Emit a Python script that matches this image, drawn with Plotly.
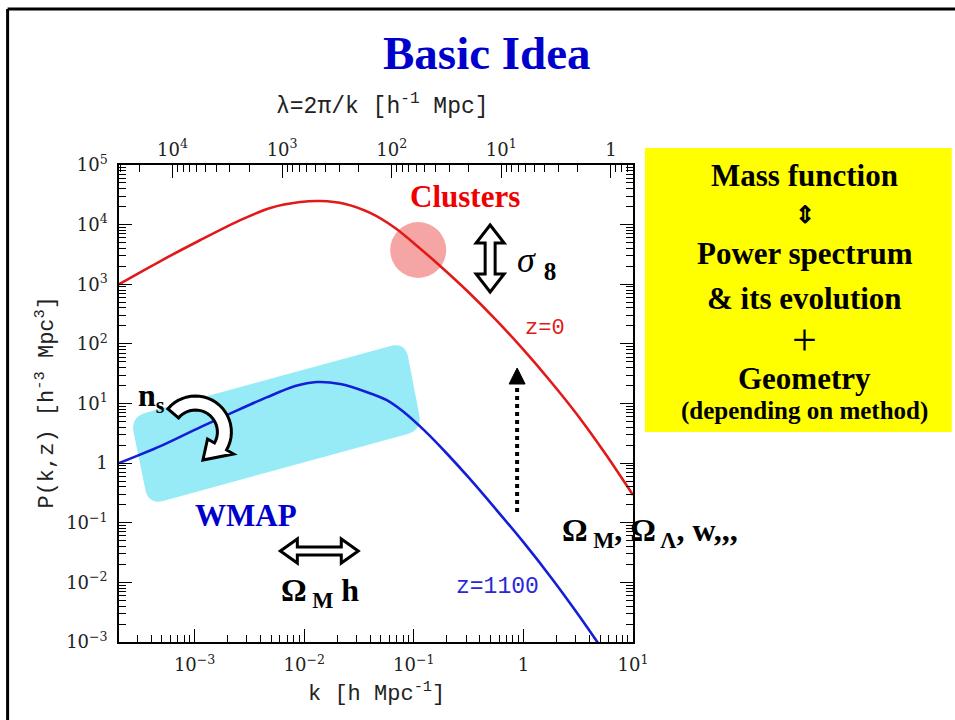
import math
import plotly.graph_objects as go

# ---------------- data ----------------
k_red = [2.04e-4, 4.88e-4, 1.13e-3, 2.61e-3, 4.9e-3, 9.19e-3, 1.40e-2, 2.37e-2, 4.0e-2,
         6.76e-2, 0.114, 0.178, 0.316, 0.562, 1.0, 1.78, 3.16, 5.62, 10.0]
P_red = [1000, 2450, 5520, 11900, 19000, 23900, 24900, 22200, 15700,
         8770, 3980, 1950, 735, 253, 80.0, 23.2, 6.18, 1.42, 0.292]

k_blue = [2.04e-4, 4.88e-4, 1.13e-3, 2.36e-3, 4.6e-3, 8.28e-3, 1.31e-2, 2.13e-2, 3.75e-2,
          5.62e-2, 7.94e-2, 0.126, 0.2, 0.316, 0.562, 1.0, 1.78, 3.16, 5.62]
P_blue = [1.0, 1.93, 4.02, 7.45, 12.8, 19.6, 22.9, 21.2, 15.5,
          11.5, 7.41, 3.47, 1.45, 0.575, 0.168, 0.0472, 0.0122, 2.89e-3, 6.3e-4]

k_ticks = [1e-3, 1e-2, 1e-1, 1, 10]
k_ticktext = ["10<sup>−3</sup>", "10<sup>−2</sup>", "10<sup>−1</sup>", "1", "10<sup>1</sup>"]
P_ticks = [1e-3, 1e-2, 1e-1, 1, 10, 1e2, 1e3, 1e4, 1e5]
P_ticktext = ["10<sup>−3</sup>", "10<sup>−2</sup>", "10<sup>−1</sup>", "1", "10<sup>1</sup>",
              "10<sup>2</sup>", "10<sup>3</sup>", "10<sup>4</sup>", "10<sup>5</sup>"]
lam_ticks = [1e4, 1e3, 1e2, 10, 1]
lam_ticktext = ["10<sup>4</sup>", "10<sup>3</sup>", "10<sup>2</sup>", "10<sup>1</sup>", "1"]

yellow_lines = ["Mass function", "⇕", "Power spectrum", "& its evolution", "+", "Geometry",
                "(depending on method)"]

# ---------------- geometry ----------------
W, H = 955, 720
X0, X1, Y0, Y1 = 118.5, 633.0, 165.0, 642.0
KMIN_LOG, KMAX_LOG = -3.69, 1.0


def PX(x):
    return (x - X0) / (X1 - X0)


def PY(y):
    return (Y1 - y) / (Y1 - Y0)


def path_of(pts, close=True):
    s = "M " + " L ".join(f"{PX(x):.5f},{PY(y):.5f}" for x, y in pts)
    return s + (" Z" if close else "")


def rounded_path(corners, rad):
    n = len(corners)
    segs = []
    for i in range(n):
        P = corners[i]
        A = corners[i - 1]
        B = corners[(i + 1) % n]
        la = math.hypot(A[0] - P[0], A[1] - P[1])
        lb = math.hypot(B[0] - P[0], B[1] - P[1])
        p1 = (P[0] + (A[0] - P[0]) * rad / la, P[1] + (A[1] - P[1]) * rad / la)
        p2 = (P[0] + (B[0] - P[0]) * rad / lb, P[1] + (B[1] - P[1]) * rad / lb)
        segs.append((p1, P, p2))
    s = f"M {PX(segs[0][0][0]):.5f},{PY(segs[0][0][1]):.5f} "
    for i, (p1, P, p2) in enumerate(segs):
        if i > 0:
            s += f"L {PX(p1[0]):.5f},{PY(p1[1]):.5f} "
        s += f"Q {PX(P[0]):.5f},{PY(P[1]):.5f} {PX(p2[0]):.5f},{PY(p2[1]):.5f} "
    return s + "Z"


lam_min = [m * 10 ** n for n in range(-1, 5) for m in range(2, 10)]
lam_min = [v for v in lam_min if 2 * math.pi / 10 < v < 2 * math.pi / 10 ** KMIN_LOG]
k_min = [m * 10 ** n for n in range(-4, 1) for m in range(2, 10)]
k_min = [v for v in k_min if 10 ** KMIN_LOG < v < 10]
P_min = [m * 10 ** n for n in range(-3, 5) for m in range(2, 10)]

fig = go.Figure()
fig.add_trace(go.Scatter(x=k_red, y=P_red, mode="lines",
                         line=dict(color="rgb(225,25,25)", width=2.6, shape="spline", smoothing=0.8),
                         showlegend=False, hoverinfo="skip"))
fig.add_trace(go.Scatter(x=k_blue, y=P_blue, mode="lines",
                         line=dict(color="rgb(20,30,215)", width=2.6, shape="spline", smoothing=0.8),
                         showlegend=False, hoverinfo="skip"))
fig.add_trace(go.Scatter(x=[1.0], y=[1.0], xaxis="x2", mode="markers", marker=dict(opacity=0),
                         showlegend=False, hoverinfo="skip"))

tickfont = dict(family="DejaVu Serif", size=18, color="#222")
common = dict(showline=True, linecolor="black", linewidth=1.5, ticks="inside", ticklen=13,
              tickwidth=1, tickcolor="black", showgrid=False, zeroline=False, tickfont=tickfont)

fig.update_layout(
    width=W, height=H, margin=dict(l=X0, r=W - X1, t=Y0, b=H - Y1),
    paper_bgcolor="white", plot_bgcolor="white",
    xaxis=dict(type="log", range=[KMIN_LOG, KMAX_LOG], tickvals=k_ticks, ticktext=k_ticktext,
               minor=dict(tickvals=k_min, ticks="inside", ticklen=7, tickcolor="black", tickwidth=1),
               mirror=False, ticklabelstandoff=6, **common),
    xaxis2=dict(type="log", overlaying="x", side="top", anchor="y",
                range=[math.log10(2 * math.pi) - KMIN_LOG, math.log10(2 * math.pi) - KMAX_LOG],
                tickvals=lam_ticks, ticktext=lam_ticktext,
                minor=dict(tickvals=lam_min, ticks="inside", ticklen=7, tickcolor="black", tickwidth=1),
                **common),
    yaxis=dict(type="log", range=[-3, 5], tickvals=P_ticks, ticktext=P_ticktext,
               minor=dict(tickvals=P_min, ticks="inside", ticklen=7, tickcolor="black", tickwidth=1),
               mirror="ticks", ticklabelstandoff=6, **common),
)

shapes = []
# slide border (top and left)
shapes.append(dict(type="line", xref="paper", yref="paper", x0=PX(7), y0=PY(9), x1=PX(956), y1=PY(9),
                   line=dict(color="black", width=3)))
shapes.append(dict(type="line", xref="paper", yref="paper", x0=PX(7), y0=PY(9), x1=PX(7), y1=PY(721),
                   line=dict(color="black", width=3)))
# yellow box
shapes.append(dict(type="rect", xref="paper", yref="paper", x0=PX(645), x1=PX(952), y0=PY(148), y1=PY(432),
                   fillcolor="#FFFF00", line=dict(width=0)))
# cyan WMAP region
shapes.append(dict(type="path", xref="paper", yref="paper", layer="below",
                   path=rounded_path([(130, 417), (405, 342), (422, 430), (148, 505)], 16),
                   fillcolor="rgb(150,235,246)", line=dict(width=0)))
# clusters circle
shapes.append(dict(type="circle", xref="paper", yref="paper", layer="below",
                   x0=PX(390), x1=PX(446), y0=PY(278), y1=PY(222),
                   fillcolor="rgb(246,165,165)", line=dict(width=0)))
# vertical double hollow arrow
cx = 490
va = [(cx, 225), (cx + 14, 243), (cx + 5, 243), (cx + 5, 274), (cx + 14, 274), (cx, 292),
      (cx - 14, 274), (cx - 5, 274), (cx - 5, 243), (cx - 14, 243)]
shapes.append(dict(type="path", xref="paper", yref="paper", path=path_of(va),
                   fillcolor="white", line=dict(color="black", width=3)))
# horizontal double hollow arrow
cy = 551
ha = [(280, cy), (297, cy - 12), (297, cy - 4), (341, cy - 4), (341, cy - 12), (358, cy),
      (341, cy + 12), (341, cy + 4), (297, cy + 4), (297, cy + 12)]
shapes.append(dict(type="path", xref="paper", yref="paper", path=path_of(ha),
                   fillcolor="white", line=dict(color="black", width=3)))
# curved arrow (n_s)
ccx, ccy, Ro, Ri = 195, 432, 36, 22
t1, t2 = 140, -30
pts = []
steps = 24
for i in range(steps + 1):
    t = math.radians(t1 + (t2 - t1) * i / steps)
    pts.append((ccx + Ro * math.cos(t), ccy - Ro * math.sin(t)))
tt = math.radians(t2)
pts.append((ccx + (Ro + 8) * math.cos(tt), ccy - (Ro + 8) * math.sin(tt)))
ttip = math.radians(-75)
pts.append((ccx + 29 * math.cos(ttip), ccy - 29 * math.sin(ttip)))
pts.append((ccx + (Ri - 8) * math.cos(tt), ccy - (Ri - 8) * math.sin(tt)))
for i in range(steps + 1):
    t = math.radians(t2 + (t1 - t2) * i / steps)
    pts.append((ccx + Ri * math.cos(t), ccy - Ri * math.sin(t)))
shapes.append(dict(type="path", xref="paper", yref="paper", path=path_of(pts),
                   fillcolor="white", line=dict(color="black", width=3)))
# dotted arrow
shapes.append(dict(type="line", xref="paper", yref="paper", x0=PX(517), x1=PX(517), y0=PY(512), y1=PY(384),
                   line=dict(color="black", width=4, dash="dot")))
shapes.append(dict(type="path", xref="paper", yref="paper",
                   path=path_of([(517, 368), (525, 384), (509, 384)]),
                   fillcolor="black", line=dict(color="black", width=1)))
fig.update_layout(shapes=shapes)

ann = []


def text(x, y, s, size, color="black", family="Liberation Serif", xanchor="center", angle=0):
    ann.append(dict(xref="paper", yref="paper", x=PX(x), y=PY(y), text=s, showarrow=False,
                    xanchor=xanchor, yanchor="middle", textangle=angle,
                    font=dict(family=family, size=size, color=color)))


MONO = "Liberation Mono"
text(487, 53, "<b>Basic Idea</b>", 47, "rgb(0,0,205)")
text(382, 105, "λ=2π/k [h<sup>-1</sup> Mpc]", 23, "#222", MONO)
text(376, 692, "k [h Mpc<sup>-1</sup>]", 22, "#222", MONO)
text(44, 402, "P(k,z) [h<sup>-3</sup> Mpc<sup>3</sup>]", 22, "#222", MONO, angle=-90)

ys = [175, 215, 253, 298, 340, 378, 411]
sizes = [31, 24, 31, 31, 44, 31, 25]
for s, yy, sz in zip(yellow_lines, ys, sizes):
    if s == "+":
        text(805, yy, s, sz)
    else:
        text(805, yy, f"<b>{s}</b>", sz)

text(465, 197, "<b>Clusters</b>", 31, "rgb(240,0,0)")
text(536, 262, "<i>σ</i> <sub><b>8</b></sub>", 36)
text(545, 328, "z=0", 22, "rgb(225,25,25)", MONO)
text(497, 587, "z=1100", 23, "rgb(40,40,215)", MONO)
text(246, 515, "<b>WMAP</b>", 31, "rgb(0,0,205)")
text(151, 397, "<b>n<sub>s</sub></b>", 32)
text(320, 592, "<b>Ω<sub> M</sub> h</b>", 32)
text(650, 532, "<b>Ω<sub> M</sub>, Ω<sub> Λ</sub>, w,,,</b>", 32)
fig.update_layout(annotations=ann)

fig.write_html("out.html")
